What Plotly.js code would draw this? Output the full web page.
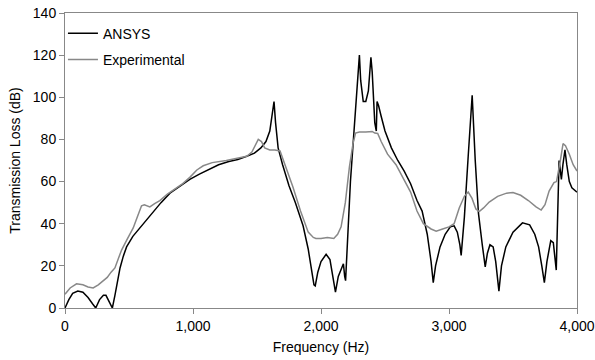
<!DOCTYPE html>
<html>
<head>
<meta charset="utf-8">
<script src="https://cdn.plot.ly/plotly-3.0.1.min.js"></script>
<style>html,body{margin:0;padding:0;background:#fff;}#chart{width:595px;height:360px;}</style>
</head>
<body>
<div id="chart"></div>
<script>
var ansysFreq = [0,30,60,100,140,180,215,240,270,300,320,345,370,390,410,430,455,481,530,585,640,690,750,820,900,975,1050,1130,1200,1280,1350,1420,1480,1530,1570,1600,1620,1633,1645,1665,1700,1750,1800,1860,1900,1925,1945,1955,1975,2000,2040,2070,2095,2113,2135,2160,2175,2185,2192,2230,2270,2300,2310,2330,2350,2370,2390,2400,2420,2428,2432,2438,2450,2470,2500,2550,2600,2650,2700,2750,2790,2830,2860,2877,2895,2930,2970,3010,3040,3065,3085,3095,3120,3150,3181,3205,3230,3260,3283,3300,3320,3345,3365,3390,3410,3444,3500,3574,3630,3670,3700,3725,3745,3765,3795,3815,3830,3838,3860,3870,3878,3890,3906,3920,3940,3960,4000];
var ansysTL = [0,4,7,8,7.5,5,2,0,4,6,6,3,0,6,13,19,24.5,29,34,38,42,46,50,54.5,58,61,63.5,66,68,69.5,70.5,72,73.5,76,79,84,92,98,88,76,68,58,50,39,28,19,11,10.5,17,22,25.5,23,15,7.5,15,19,21,15,13,60,95,120,108,98,98,103,119,112,88,84,84,98,96,91,84,76,70,65,59,51,46,35,22,12,20,29,35,38.5,39,36,30,25,43,72,101,70,45,30,19.5,26,30,29,22,8,20,29,36,40.4,39.5,35,29,20,12,22,32,31,22,18,70,65,61,68,75,68,60,57,55];
var expFreq = [0,40,90,140,180,220,260,300,330,360,390,420,442,480,533,570,598,620,663,700,741,800,860,920,975,1030,1080,1150,1260,1350,1420,1460,1490,1510,1535,1560,1600,1640,1680,1730,1780,1840,1900,1940,1960,2000,2050,2100,2130,2157,2190,2222,2250,2270,2300,2350,2400,2420,2443,2470,2520,2586,2650,2700,2750,2800,2860,2900,2950,3000,3040,3080,3120,3150,3180,3210,3236,3270,3314,3380,3450,3500,3560,3620,3680,3720,3750,3782,3820,3840,3870,3891,3910,3940,3970,4000];
var expTL = [6.5,9.5,11.5,11,10,9.5,11,13,14.5,17,19,24,27.5,32,38,44,48.5,49,48,49.5,51,54,56.5,59,62,65.5,67.5,69,70,71,72,74,78,80,79,76,75,75,74.5,66,57.5,46,36,33.5,33,33,33.5,33,35,38.5,50,67,78,83,83.5,83.5,83.8,83,82.8,79,73,68,61,55,46,40,37.5,36.5,37.5,38.5,40,47.5,53,55,52,47,45.8,47.5,50.3,53,54.5,54.8,53.5,51,48,46.5,49,55.5,59.5,60,70,78,77,73,68,65];
var seriesNames = ['ANSYS','Experimental'];
var xTicks = [0,1000,2000,3000,4000];
var xTickText = ['0','1,000','2,000','3,000','4,000'];
var yTicks = [0,20,40,60,80,100,120,140];

var font = {family:'Liberation Sans, Arial, sans-serif', size:14, color:'#000'};
var traces = [
  {x: ansysFreq, y: ansysTL, name: seriesNames[0], type:'scatter', mode:'lines',
   line:{color:'#000000', width:1.5}, legendgroup:'a'},
  {x: expFreq, y: expTL, name: seriesNames[1], type:'scatter', mode:'lines',
   line:{color:'#888888', width:1.5}, legendgroup:'b'}
];
var layout = {
  width:595, height:360,
  margin:{l:65, r:18, t:13, b:52},
  paper_bgcolor:'#fff', plot_bgcolor:'#fff',
  font: font,
  showlegend:true,
  legend:{x:-0.004, y:0.984, xanchor:'left', yanchor:'top', bgcolor:'rgba(0,0,0,0)',
          font:font, itemwidth:30, tracegroupgap:5, traceorder:'grouped'},
  xaxis:{range:[0,4000], tickvals:xTicks, ticktext:xTickText, showgrid:false, zeroline:false,
         showline:true, linecolor:'#888', linewidth:1, mirror:true,
         ticks:'outside', ticklen:5, tickcolor:'#888', tickfont:font,
         title:{text:'Frequency (Hz)', font:font, standoff:9}},
  yaxis:{range:[0,140], tickvals:yTicks, showgrid:false, zeroline:false,
         showline:true, linecolor:'#888', linewidth:1, mirror:true,
         ticks:'outside', ticklen:5, tickcolor:'#888', tickfont:font,
         title:{text:'Transmission Loss (dB)', font:font, standoff:8}}
};
Plotly.newPlot('chart', traces, layout, {staticPlot:true, displayModeBar:false});
</script>
</body>
</html>
